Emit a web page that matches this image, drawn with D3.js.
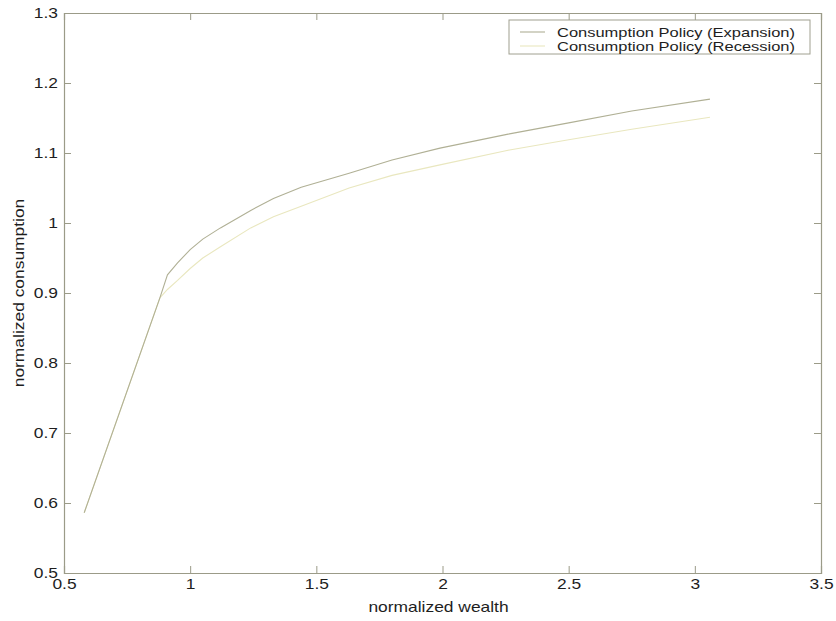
<!DOCTYPE html>
<html>
<head>
<meta charset="utf-8">
<script src="https://cdn.jsdelivr.net/npm/d3@7"></script>
<style>
  body { margin: 0; background: #fff; }
  svg { display: block; font-family: "Liberation Sans", Arial, sans-serif; }
</style>
</head>
<body>
<svg width="836" height="621"></svg>
<script>
// wealth grid and the two policy curves
const wealth = [0.58, 0.88, 0.91, 0.95, 1.0, 1.05, 1.12, 1.24, 1.33, 1.44, 1.63, 1.8, 1.99, 2.26, 2.5, 2.75, 3.06];
const expansion = [0.586, 0.893, 0.926, 0.943, 0.962, 0.977, 0.993, 1.018, 1.035, 1.051, 1.071, 1.090, 1.107, 1.127, 1.143, 1.160, 1.177];
const recession = [0.586, 0.893, 0.905, 0.918, 0.935, 0.950, 0.966, 0.993, 1.009, 1.024, 1.050, 1.068, 1.083, 1.104, 1.119, 1.134, 1.151];
const xTicks = [0.5, 1, 1.5, 2, 2.5, 3, 3.5];
const yTicks = [0.5, 0.6, 0.7, 0.8, 0.9, 1, 1.1, 1.2, 1.3];
const seriesNames = ["Consumption Policy (Expansion)", "Consumption Policy (Recession)"];
const seriesColors = ["#b0b095", "#e9e7bf"];

const margin = {top: 13, right: 15, bottom: 48, left: 64};
const width = 836, height = 621;
const svg = d3.select("svg");

const x = d3.scaleLinear().domain([0.5, 3.5]).range([margin.left, width - margin.right]);
const y = d3.scaleLinear().domain([0.5, 1.3]).range([height - margin.bottom, margin.top]);

const axisColor = "#9b9b88";
const fontSize = "14.5px";
const stretch = 1.2; // glyphs in the scan are wider than tall

// text in the original is a bit wide, so stretch every label horizontally
function widen(sel, target) {
  sel.each(function() {
    const len = target || this.getComputedTextLength() * stretch;
    d3.select(this).attr("textLength", len).attr("lengthAdjust", "spacingAndGlyphs");
  });
}

// bottom axis, ticks inward
const gx = svg.append("g")
  .attr("transform", "translate(0," + y(0.5) + ")")
  .call(d3.axisBottom(x).tickValues(xTicks).tickSize(-7).tickPadding(6).tickFormat(d3.format("")));
// top axis ticks
const gxt = svg.append("g")
  .attr("transform", "translate(0," + y(1.3) + ")")
  .call(d3.axisTop(x).tickValues(xTicks).tickSize(-7).tickFormat(""));
// left axis
const gy = svg.append("g")
  .attr("transform", "translate(" + x(0.5) + ",0)")
  .call(d3.axisLeft(y).tickValues(yTicks).tickSize(-7).tickPadding(6).tickFormat(d3.format("")));
// right axis ticks
const gyr = svg.append("g")
  .attr("transform", "translate(" + x(3.5) + ",0)")
  .call(d3.axisRight(y).tickValues(yTicks).tickSize(-7).tickFormat(""));

[gx, gxt, gy, gyr].forEach(g => {
  g.selectAll("path.domain").attr("stroke", axisColor).attr("stroke-width", 1.2);
  g.selectAll(".tick line").attr("stroke", axisColor);
  g.selectAll(".tick text").attr("fill", "#1e1e1e").style("font-size", fontSize).style("font-family", "Liberation Sans, Arial, sans-serif");
});
widen(gx.selectAll(".tick text"));
widen(gy.selectAll(".tick text"));

// curves
const line = d3.line()
  .x((d, i) => x(wealth[i]))
  .y(d => y(d));

svg.append("path")
  .datum(recession)
  .attr("fill", "none")
  .attr("stroke", seriesColors[1])
  .attr("stroke-width", 1.1)
  .attr("d", line);

svg.append("path")
  .datum(expansion)
  .attr("fill", "none")
  .attr("stroke", seriesColors[0])
  .attr("stroke-width", 1.1)
  .attr("d", line);

// axis titles
svg.append("text")
  .attr("x", (x(0.5) + x(3.5)) / 2 - 4)
  .attr("y", 612)
  .attr("text-anchor", "middle")
  .attr("fill", "#1e1e1e")
  .style("font-size", fontSize)
  .text("normalized wealth")
  .call(widen);

svg.append("text")
  .attr("transform", "translate(24," + (y(0.9)) + ") rotate(-90)")
  .attr("text-anchor", "middle")
  .attr("fill", "#1e1e1e")
  .style("font-size", fontSize)
  .text("normalized consumption")
  .call(widen);

// legend
const lg = svg.append("g").attr("transform", "translate(509,20)");
lg.append("rect")
  .attr("width", 301).attr("height", 34)
  .attr("fill", "#fff")
  .attr("stroke", "#a0a090");
seriesNames.forEach((name, i) => {
  lg.append("line")
    .attr("x1", 11).attr("x2", 36)
    .attr("y1", 12 + i * 14).attr("y2", 12 + i * 14)
    .attr("stroke", seriesColors[i]).attr("stroke-width", 1.1);
  lg.append("text")
    .attr("x", 48).attr("y", 16.5 + i * 14)
    .attr("fill", "#1e1e1e")
    .style("font-size", "13px")
    .text(name)
    .call(widen, 238);
});
</script>
</body>
</html>
